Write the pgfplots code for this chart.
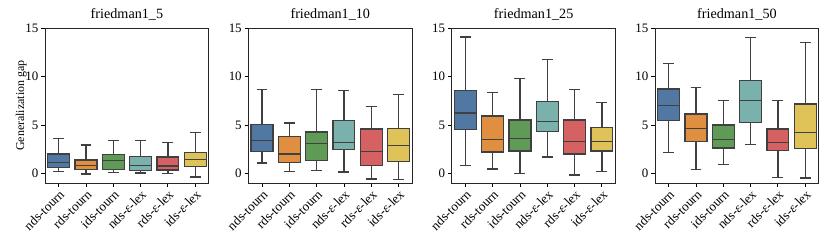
\documentclass[border=0pt]{standalone}
\usepackage{pgfplots}
\pgfplotsset{compat=1.18}
\usepgfplotslibrary{statistics}
\usepackage{fontspec}
\setmainfont{Liberation Serif}
\definecolor{cA}{RGB}{81,119,163}
\definecolor{cB}{RGB}{224,142,64}
\definecolor{cC}{RGB}{95,155,86}
\definecolor{cD}{RGB}{123,177,173}
\definecolor{cE}{RGB}{214,97,98}
\definecolor{cF}{RGB}{224,195,88}
\definecolor{boxline}{RGB}{64,64,64}
\newcommand{\bx}[7]{\addplot[boxplot/draw direction=y, boxplot prepared={draw position=#1, lower whisker=#2, lower quartile=#3, median=#4, upper quartile=#5, upper whisker=#6, box extend=0.8, whisker extend=0.4}, draw=boxline, fill=#7, line width=0.9pt] coordinates {};}
\pgfplotsset{gap/.style={
  width=118pt, height=111.6pt, scale only axis,
  xmin=-0.5, xmax=5.5, ymin=-1, ymax=15,
  ytick={0,5,10,15}, xtick={0,1,2,3,4,5},
  xticklabels={nds-tourn,rds-tourn,ids-tourn,nds-\textit{ε}-lex,rds-\textit{ε}-lex,ids-\textit{ε}-lex},
  x tick label style={rotate=45, anchor=north east, font=\fontsize{9.5}{10}\selectfont, inner sep=1pt},
  y tick label style={font=\fontsize{9.3}{10}\selectfont, inner sep=2pt},
  /pgf/number format/assume math mode=true,
  tick align=outside, tick pos=left, major tick length=2.6pt,
  tick style={black, line width=0.6pt},
  axis line style={black!85, line width=0.6pt},
  title style={font=\fontsize{10.2}{12}\selectfont, yshift=-4pt},
  anchor=south west,
}}
\begin{document}
\begin{tikzpicture}
\useasboundingbox (-32.4pt,-42.5pt) rectangle (565.2pt,131.8pt);
\begin{axis}[gap, at={(0pt,0pt)}, title={friedman1\_5}, ylabel={Generalization gap}, ylabel style={font=\fontsize{8.6}{9}\selectfont, yshift=-6.5pt}]
\bx{0}{0.21}{0.62}{1.14}{2.00}{3.59}{cA}
\bx{1}{-0.07}{0.38}{0.80}{1.38}{2.93}{cB}
\bx{2}{0.07}{0.41}{1.35}{1.97}{3.41}{cC}
\bx{3}{0.04}{0.28}{0.83}{1.76}{3.41}{cD}
\bx{4}{0.00}{0.35}{0.76}{1.69}{3.21}{cE}
\bx{5}{-0.37}{0.69}{1.45}{2.17}{4.24}{cF}
\end{axis}
\begin{axis}[gap, at={(146.4pt,0pt)}, title={friedman1\_10}]
\bx{0}{1.07}{2.24}{3.38}{5.07}{8.62}{cA}
\bx{1}{0.21}{1.10}{2.00}{3.79}{5.21}{cB}
\bx{2}{0.28}{1.31}{3.10}{4.28}{8.69}{cC}
\bx{3}{0.14}{2.48}{3.17}{5.45}{8.59}{cD}
\bx{4}{-0.59}{0.83}{2.24}{4.59}{6.90}{cE}
\bx{5}{-0.62}{1.21}{2.86}{4.66}{8.14}{cF}
\end{axis}
\begin{axis}[gap, at={(292.8pt,0pt)}, title={friedman1\_25}]
\bx{0}{0.83}{4.52}{6.24}{8.55}{14.07}{cA}
\bx{1}{0.45}{2.21}{3.52}{5.93}{8.31}{cB}
\bx{2}{0.00}{2.31}{3.59}{5.52}{9.76}{cC}
\bx{3}{1.69}{4.31}{5.34}{7.41}{11.72}{cD}
\bx{4}{-0.17}{2.00}{3.28}{5.52}{8.66}{cE}
\bx{5}{0.17}{2.31}{3.31}{4.72}{7.31}{cF}
\end{axis}
\begin{axis}[gap, at={(439.2pt,0pt)}, title={friedman1\_50}]
\bx{0}{2.17}{5.48}{7.00}{8.72}{11.38}{cA}
\bx{1}{0.41}{3.31}{4.66}{6.14}{8.86}{cB}
\bx{2}{0.90}{2.62}{3.52}{5.00}{7.55}{cC}
\bx{3}{3.00}{5.24}{7.55}{9.59}{14.00}{cD}
\bx{4}{-0.41}{2.34}{3.17}{4.59}{7.52}{cE}
\bx{5}{-0.48}{2.59}{4.24}{7.17}{13.48}{cF}
\end{axis}
\end{tikzpicture}
\end{document}
